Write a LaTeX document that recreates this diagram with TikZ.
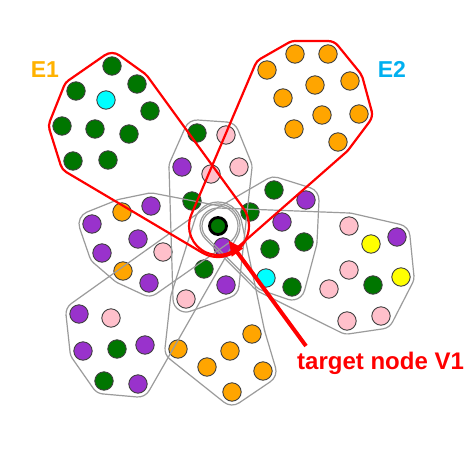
\documentclass[tikz,border=0pt]{standalone}
\usepackage{fontspec}
\setmainfont{Liberation Sans}
\usetikzlibrary{calc,arrows.meta}
\definecolor{cgreen}{RGB}{0,118,0}
\definecolor{cpurple}{RGB}{153,50,204}
\definecolor{cpink}{RGB}{255,192,203}
\definecolor{corange}{RGB}{255,165,0}
\definecolor{cyellow}{RGB}{255,255,0}
\definecolor{ccyan}{RGB}{0,255,255}
\definecolor{cborder}{RGB}{64,64,64}
\definecolor{hullgray}{RGB}{155,155,155}
\definecolor{eone}{RGB}{255,178,0}
\definecolor{etwo}{RGB}{0,176,240}
\definecolor{hred}{RGB}{255,0,0}

\def\hullsplit#1/#2\relax{\def\hname{#1}\def\hrad{#2}}
\def\hullpiece#1#2#3#4{%
  \hullsplit#2\relax\let\hA\hname\let\rA\hrad
  \hullsplit#3\relax\let\hB\hname\let\rB\hrad
  \hullsplit#4\relax\let\hC\hname\let\rC\hrad
  \draw[#1] let \p1=($(\hB)-(\hA)$), \p2=($(\hC)-(\hB)$),
    \n1={veclen(\x1,\y1)}, \n2={veclen(\x2,\y2)},
    \n3={atan2(\y1,\x1)-90+asin((\rA-\rB)/\n1)},
    \n4={atan2(\y2,\x2)-90+asin((\rB-\rC)/\n2)},
    \n5={mod(\n4-\n3+720,360)},
    \n6={(\n5>180) ? (\n5-360) : \n5}
  in ($(\hA)+(\n3:\rA pt)$) -- ($(\hB)+(\n3:\rB pt)$)
     arc[start angle=\n3, delta angle=\n6, radius=\rB pt];}

\ExplSyntaxOn
\seq_new:N \l__hull_seq
\int_new:N \l__hull_n_int
\cs_new_protected:Npn \drawhull #1 #2
  {
    \seq_set_from_clist:Nn \l__hull_seq {#2}
    \int_set:Nn \l__hull_n_int { \seq_count:N \l__hull_seq }
    \int_step_inline:nn { \l__hull_n_int }
      {
        \use:x
          {
            \exp_not:N \hullpiece
              { \exp_not:n {#1} }
              { \seq_item:Nn \l__hull_seq {##1} }
              { \seq_item:Nn \l__hull_seq { \int_mod:nn {##1} {\l__hull_n_int} + 1 } }
              { \seq_item:Nn \l__hull_seq { \int_mod:nn {##1 + 1} {\l__hull_n_int} + 1 } }
          }
      }
  }
\ExplSyntaxOff

\tikzset{
  dot/.style={circle, draw=cborder, line width=0.9pt, minimum size=18.4pt, inner sep=0pt, fill=#1},
  target/.style={circle, draw=black, line width=2.8pt, minimum size=17pt, inner sep=0pt, fill=cgreen},
  hullg/.style={draw=hullgray, line width=1.2pt, line cap=round},
  hullr/.style={draw=hred, line width=2.2pt, line cap=round},
  elabel/.style={anchor=base west, inner sep=0pt, font=\fontsize{23}{27}\selectfont\bfseries},
  redarrow/.style={draw=hred, line width=4pt, -{Triangle[length=15pt,width=13pt]}, shorten >=8pt}
}

\begin{document}
\begin{tikzpicture}[x=1pt,y=-1pt]
\useasboundingbox[fill=white] (0,0) rectangle (467,467);

% target node
\node[target] (v1) at (218,226) {};

% E1 cluster
\node[dot=cgreen] (a1) at (112,66) {};
\node[dot=cgreen] (a2) at (76,91) {};
\node[dot=ccyan]  (a3) at (106,100) {};
\node[dot=cgreen] (a4) at (137,84) {};
\node[dot=cgreen] (a5) at (150,111) {};
\node[dot=cgreen] (a6) at (62,126) {};
\node[dot=cgreen] (a7) at (95,129) {};
\node[dot=cgreen] (a8) at (129,134) {};
\node[dot=cgreen] (a9) at (73,161) {};
\node[dot=cgreen] (a10) at (108,160) {};

% E2 cluster
\node[dot=corange] (b1) at (267,70) {};
\node[dot=corange] (b2) at (295,54) {};
\node[dot=corange] (b3) at (328,54) {};
\node[dot=corange] (b4) at (315,85) {};
\node[dot=corange] (b5) at (350,81) {};
\node[dot=corange] (b6) at (283,98) {};
\node[dot=corange] (b7) at (322,115) {};
\node[dot=corange] (b8) at (359,114) {};
\node[dot=corange] (b9) at (294,129) {};
\node[dot=corange] (b10) at (338,142) {};

% top cluster
\node[dot=cgreen]  (c1) at (197,133) {};
\node[dot=cpink]   (c2) at (226,135) {};
\node[dot=cpurple] (c3) at (182,167) {};
\node[dot=cpink]   (c4) at (211,174) {};
\node[dot=cpink]   (c5) at (239,167) {};
\node[dot=cgreen]  (c6) at (192,201) {};

% below target
\node[dot=cpurple] (d1) at (223,247) {};
\node[dot=cgreen]  (d2) at (204,269) {};
\node[dot=cpurple] (d3) at (226,285) {};
\node[dot=cpink]   (d4) at (186,299) {};

% left cluster
\node[dot=corange] (e1) at (122,212) {};
\node[dot=cpurple] (e2) at (151,206) {};
\node[dot=cpurple] (e3) at (92,224) {};
\node[dot=cpurple] (e4) at (138,239) {};
\node[dot=cpurple] (e5) at (102,253) {};
\node[dot=cpink]   (e6) at (163,252) {};
\node[dot=corange] (e7) at (123,271) {};
\node[dot=cpurple] (e8) at (149,283) {};

% lower-left cluster
\node[dot=cpurple] (f1) at (79,314) {};
\node[dot=cpink]   (f2) at (111,318) {};
\node[dot=cpurple] (f3) at (83,351) {};
\node[dot=cgreen]  (f4) at (117,349) {};
\node[dot=cpurple] (f5) at (145,345) {};
\node[dot=cgreen]  (f6) at (104,381) {};
\node[dot=cpurple] (f7) at (138,384) {};

% bottom orange cluster
\node[dot=corange] (h1) at (178,349) {};
\node[dot=corange] (h2) at (230,351) {};
\node[dot=corange] (h3) at (252,334) {};
\node[dot=corange] (h4) at (207,367) {};
\node[dot=corange] (h5) at (263,371) {};
\node[dot=corange] (h6) at (232,392) {};

% right-upper cluster
\node[dot=cgreen]  (k1) at (274,190) {};
\node[dot=cpurple] (k2) at (306,200) {};
\node[dot=cgreen]  (k3) at (250,212) {};
\node[dot=cpurple] (k4) at (282,222) {};
\node[dot=cgreen]  (k5) at (304,242) {};
\node[dot=cgreen]  (k6) at (270,249) {};
\node[dot=ccyan]   (k7) at (266,278) {};
\node[dot=cgreen]  (k8) at (292,287) {};

% right cluster
\node[dot=cpink]   (m1) at (349,226) {};
\node[dot=cyellow] (m2) at (371,244) {};
\node[dot=cpurple] (m3) at (397,237) {};
\node[dot=cpink]   (m4) at (349,270) {};
\node[dot=cgreen]  (m5) at (373,285) {};
\node[dot=cyellow] (m6) at (401,277) {};
\node[dot=cpink]   (m7) at (329,289) {};
\node[dot=cpink]   (m8) at (347,321) {};
\node[dot=cpink]   (m9) at (381,316) {};

% gray hyperedges
\drawhull{hullg}{c2/13, c1/13, c3/13, d4/13, d3/13, c5/13}
\drawhull{hullg}{e2/13, e1/13, e3/13, e5/13, e7/13, e8/13, v1/20}
\drawhull{hullg}{v1/22, f1/13, f3/13, f6/13, f7/13}
\drawhull{hullg}{v1/24, d4/15.5, h1/13, h6/13, h5/13, h3/13}
\drawhull{hullg}{k1/13, v1/16, k7/13, k8/13, k5/13, k2/13}
\drawhull{hullg}{m3/13, m1/13, v1/18, k7/15.5, m8/13, m9/13, m6/13}

% red hyperedges E1, E2
\drawhull{hullr}{a1/13, a2/13, a6/13, a9/13, v1/31, a4/13}
\drawhull{hullr}{b3/13, b2/13, b1/13, v1/29, b10/13, b8/13, b5/13}

% labels
\node[elabel, text=eone] (lE1) at (30.7,77.3) {E1};
\node[elabel, text=etwo] (lE2) at (377.7,77.3) {E2};
\node[anchor=base west, inner sep=0pt, text=hred, font=\fontsize{24}{28}\selectfont\bfseries] (lbl) at (297,369.3) {target node V1};

\coordinate (arrstart) at (306,346);
\draw[redarrow] (arrstart) -- (v1);
\end{tikzpicture}
\end{document}
